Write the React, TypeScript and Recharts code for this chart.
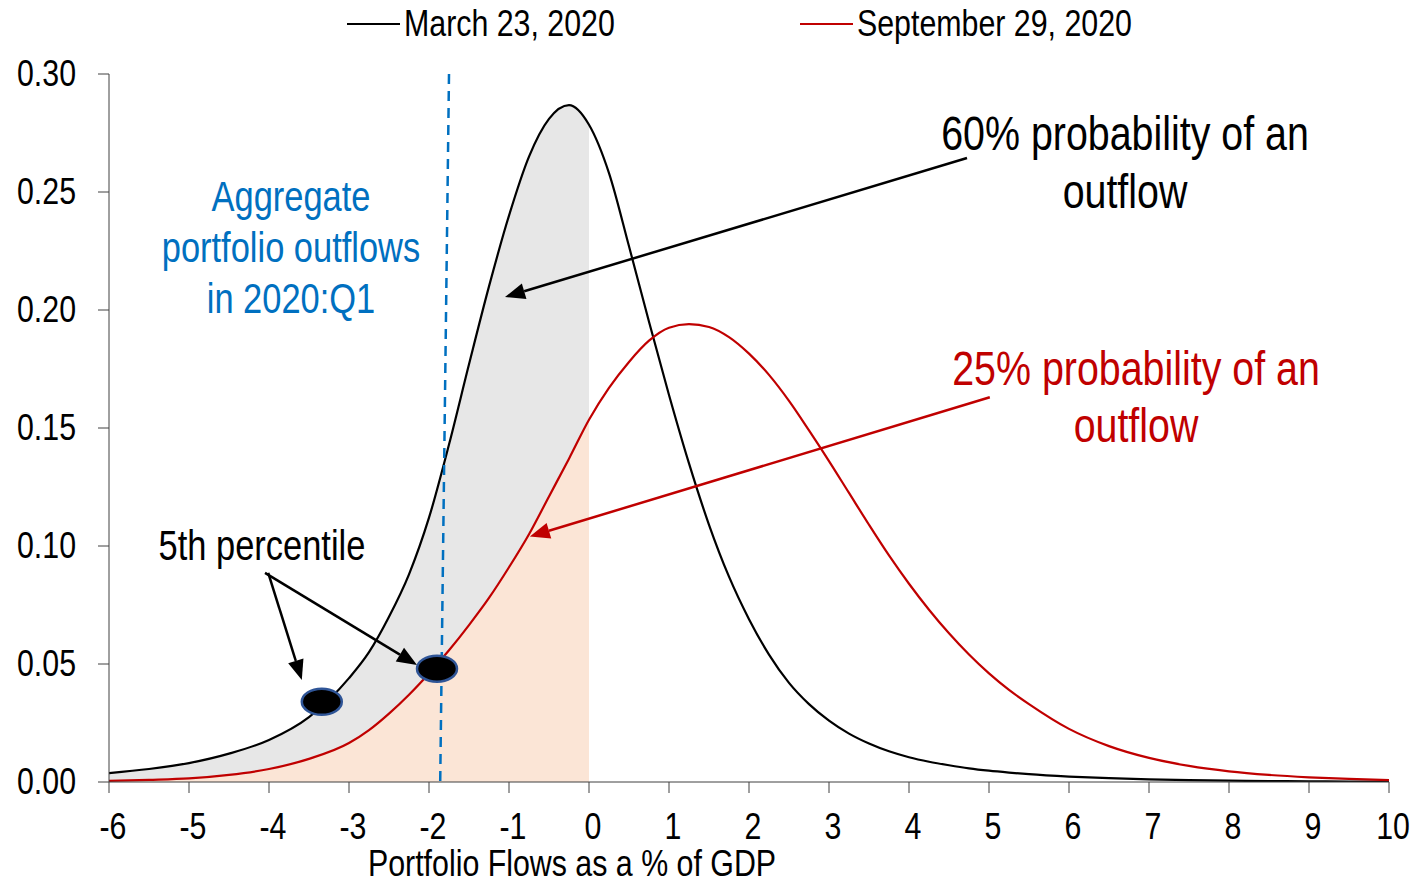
import React from "react";
import {
  ComposedChart,
  Line,
  Area,
  XAxis,
  YAxis,
  Scatter,
  ReferenceLine,
} from "recharts";

const FONT = "'Liberation Sans', Arial, sans-serif";
const SQUEEZE = 0.82;

const X_VALUES = [
  -6, -5.5, -5, -4.5, -4, -3.5, -3, -2.75, -2.5, -2.25, -2, -1.75, -1.5, -1.25, -1, -0.75, -0.5, -0.25,
  0, 0.25, 0.5, 0.75, 1, 1.25, 1.5, 1.75, 2, 2.25, 2.5, 2.75, 3, 3.25, 3.5, 3.75, 4, 4.25, 4.5,
  4.75, 5, 5.25, 5.5, 6, 6.5, 7, 7.5, 8, 8.5, 9, 9.5, 10,
];

const MARCH_VALUES = [
  0.0038, 0.0055, 0.008, 0.012, 0.0178, 0.0275, 0.044, 0.055, 0.07, 0.088, 0.112, 0.143, 0.177, 0.21,
  0.24, 0.265, 0.281, 0.2868, 0.2785, 0.258, 0.227, 0.195, 0.164, 0.135, 0.109, 0.087, 0.069,
  0.054, 0.042, 0.033, 0.026, 0.0205, 0.0163, 0.013, 0.0105, 0.0086, 0.0071, 0.0058, 0.0048, 0.004,
  0.0033, 0.0023, 0.0016, 0.0011, 0.0008, 0.0006, 0.0004, 0.0003, 0.0002, 0.0002,
];

const SEPT_VALUES = [
  0.0005, 0.0009, 0.0015, 0.003, 0.0055, 0.0098, 0.0165, 0.022, 0.029, 0.037, 0.046, 0.0558, 0.0665,
  0.078, 0.091, 0.105, 0.121, 0.137, 0.1535, 0.167, 0.178, 0.187, 0.1925, 0.194, 0.1928, 0.1885,
  0.1815, 0.1725, 0.1615, 0.149, 0.136, 0.1225, 0.109, 0.096, 0.084, 0.073, 0.063, 0.054, 0.046, 0.039,
  0.033, 0.0225, 0.0152, 0.0102, 0.0068, 0.0045, 0.003, 0.002, 0.0013, 0.0008,
];

const FILL_LIMIT = 0;
const X_TICKS = [-6, -5, -4, -3, -2, -1, 0, 1, 2, 3, 4, 5, 6, 7, 8, 9, 10];
const Y_TICKS = [0, 0.05, 0.1, 0.15, 0.2, 0.25, 0.3];

const PERCENTILE_POINTS = [
  { x: -3.34, y: 0.034 },
  { x: -1.9, y: 0.048 },
];

const MARKER_LINE = [
  { x: -1.75, y: 0.3 },
  { x: -1.86, y: 0 },
];

const ARROWS = [
  { from: { x: 4.725, y: 0.2644 }, to: { x: -1.05, y: 0.2055 }, color: "#000000" },
  { from: { x: 5.01, y: 0.163 }, to: { x: -0.74, y: 0.104 }, color: "#C00000" },
  { from: { x: -4.01, y: 0.0886 }, to: { x: -3.59, y: 0.0432 }, color: "#000000" },
  { from: { x: -4.05, y: 0.0886 }, to: { x: -2.15, y: 0.0496 }, color: "#000000" },
];

const data = X_VALUES.map((x, i) => ({
  x,
  march: MARCH_VALUES[i],
  sept: SEPT_VALUES[i],
  marchFill: x <= FILL_LIMIT ? MARCH_VALUES[i] : null,
  septFill: x <= FILL_LIMIT ? SEPT_VALUES[i] : null,
}));

const ArrowShape = (props: any) => {
  const { x1, y1, x2, y2, color } = props;
  if ([x1, y1, x2, y2].some((v) => v === undefined || isNaN(v))) return null;
  const dx = x2 - x1;
  const dy = y2 - y1;
  const len = Math.sqrt(dx * dx + dy * dy);
  const ux = dx / len;
  const uy = dy / len;
  const hl = 20;
  const hw = 8;
  const bx = x2 - ux * hl;
  const by = y2 - uy * hl;
  const px = -uy;
  const py = ux;
  return (
    <g>
      <line x1={x1} y1={y1} x2={bx} y2={by} stroke={color} strokeWidth={2.5} />
      <polygon
        points={`${x2},${y2} ${bx + px * hw},${by + py * hw} ${bx - px * hw},${by - py * hw}`}
        fill={color}
      />
    </g>
  );
};

const EllipseDot = (props: any) => {
  const { cx, cy } = props;
  if (cx === undefined || cy === undefined) return null;
  return <ellipse cx={cx} cy={cy} rx={20} ry={13} fill="#000000" stroke="#2F5597" strokeWidth={2.5} />;
};

const XTick = (props: any) => {
  const { x, y, payload } = props;
  return (
    <g transform={`translate(${x + 4},${y})`}>
      <text
        transform={`scale(${SQUEEZE},1)`}
        textAnchor="middle"
        dy="0.68em"
        fontSize={37}
        fontFamily={FONT}
        fill="#000"
      >
        {payload.value}
      </text>
    </g>
  );
};

const YTick = (props: any) => {
  const { x, y, payload } = props;
  return (
    <g transform={`translate(${x},${y})`}>
      <text
        transform={`scale(${SQUEEZE},1)`}
        textAnchor="end"
        dy="0.32em"
        fontSize={37}
        fontFamily={FONT}
        fill="#000"
      >
        {Number(payload.value).toFixed(2)}
      </text>
    </g>
  );
};

const textBlock = (
  lines: string[],
  cx: number,
  top: number,
  size: number,
  lh: number,
  color: string
) => (
  <div
    style={{
      position: "absolute",
      left: cx - 400,
      top,
      width: 800,
      textAlign: "center",
      fontFamily: FONT,
      fontSize: size,
      lineHeight: `${lh}px`,
      color,
      whiteSpace: "nowrap",
      pointerEvents: "none",
      transform: `scaleX(${SQUEEZE})`,
      transformOrigin: "50% 50%",
    }}
  >
    {lines.map((l, i) => (
      <div key={i}>{l}</div>
    ))}
  </div>
);

const legendItem = (label: string, color: string, lineLeft: number, textLeft: number) => (
  <>
    <div style={{ position: "absolute", left: lineLeft, top: 23, width: 53, height: 2, background: color }} />
    <div
      style={{
        position: "absolute",
        left: textLeft,
        top: 5,
        fontFamily: FONT,
        fontSize: 37,
        lineHeight: "37px",
        whiteSpace: "nowrap",
        color: "#000",
        transform: `scaleX(${SQUEEZE})`,
        transformOrigin: "0 50%",
      }}
    >
      {label}
    </div>
  </>
);

export default function App() {
  return (
    <div style={{ position: "absolute", left: 0, top: 0, width: 1414, height: 883, background: "#fff", overflow: "hidden" }}>
      <ComposedChart
        width={1414}
        height={883}
        data={data}
        margin={{ top: 74, right: 25, left: 9, bottom: 51 }}
      >
        <XAxis
          dataKey="x"
          type="number"
          domain={[-6, 10]}
          ticks={X_TICKS}
          allowDataOverflow
          height={50}
          tickSize={11}
          tickMargin={21}
          stroke="#404040"
          tick={<XTick />}
        />
        <YAxis
          type="number"
          domain={[0, 0.3]}
          ticks={Y_TICKS}
          allowDataOverflow
          width={100}
          tickSize={11}
          tickMargin={22}
          stroke="#404040"
          tick={<YTick />}
        />
        <Area
          type="monotone"
          dataKey="marchFill"
          stroke="none"
          fill="#E7E7E7"
          fillOpacity={1}
          isAnimationActive={false}
          connectNulls={false}
          legendType="none"
          activeDot={false}
        />
        <Area
          type="monotone"
          dataKey="septFill"
          stroke="none"
          fill="#FBE5D6"
          fillOpacity={1}
          isAnimationActive={false}
          connectNulls={false}
          legendType="none"
          activeDot={false}
        />
        <Line
          type="monotone"
          dataKey="march"
          name="March 23, 2020"
          stroke="#000000"
          strokeWidth={2.2}
          dot={false}
          isAnimationActive={false}
        />
        <Line
          type="monotone"
          dataKey="sept"
          name="September 29, 2020"
          stroke="#C00000"
          strokeWidth={2.2}
          dot={false}
          isAnimationActive={false}
        />
        <ReferenceLine
          segment={MARKER_LINE}
          stroke="#0070C0"
          strokeWidth={2.5}
          strokeDasharray="10 7"
        />
        {ARROWS.map((a, i) => (
          <ReferenceLine
            key={i}
            segment={[a.from, a.to]}
            shape={(p: any) => <ArrowShape {...p} color={a.color} />}
          />
        ))}
        <Scatter
          data={PERCENTILE_POINTS}
          dataKey="y"
          shape={<EllipseDot />}
          isAnimationActive={false}
          legendType="none"
        />
      </ComposedChart>
      {legendItem("March 23, 2020", "#000000", 347, 404)}
      {legendItem("September 29, 2020", "#C00000", 800, 857)}
      {textBlock(["Aggregate", "portfolio outflows", "in 2020:Q1"], 291, 171, 42, 51, "#0070C0")}
      {textBlock(["60% probability of an", "outflow"], 1125, 105, 48, 58, "#000000")}
      {textBlock(["25% probability of an", "outflow"], 1136, 340, 48, 57, "#C00000")}
      {textBlock(["5th percentile"], 262, 525, 42, 42, "#000000")}
      {textBlock(["Portfolio Flows as a % of GDP"], 572, 850, 37, 28, "#000000")}
    </div>
  );
}
